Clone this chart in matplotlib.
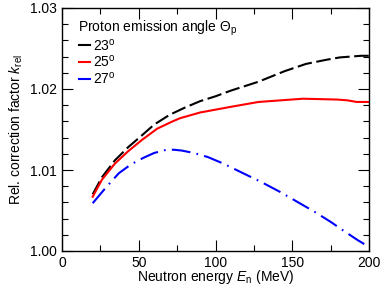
"""Relative correction factor k_rel vs neutron energy (382x286)"""
import matplotlib
matplotlib.use("Agg")
import matplotlib.pyplot as plt
from matplotlib.lines import Line2D
from matplotlib.ticker import MultipleLocator, FormatStrFormatter

plt.rcParams["font.family"] = ["Liberation Sans", "DejaVu Sans"]
plt.rcParams["mathtext.fontset"] = "custom"
plt.rcParams["mathtext.rm"] = "Liberation Sans"
plt.rcParams["mathtext.it"] = "Liberation Sans:italic"

# 23 deg (black dashed)
e_23 = [20, 26, 34.5, 43, 51, 60, 70, 80, 90, 100, 110, 128, 145, 159, 172, 181, 195, 200]
k_23 = [1.0070, 1.0091, 1.0112, 1.0128, 1.0141, 1.0156, 1.0168, 1.0177, 1.0185, 1.0191, 1.0198, 1.0209, 1.0222, 1.0231, 1.0236, 1.0239, 1.0241, 1.0241]

# 25 deg (red solid)
e_25 = [20, 26, 34.5, 43, 52, 62, 72, 77, 90, 110, 128, 157, 179, 186, 192, 200]
k_25 = [1.0067, 1.0088, 1.0108, 1.0123, 1.0137, 1.0151, 1.0160, 1.0164, 1.0171, 1.0178, 1.0184, 1.0188, 1.0187, 1.0186, 1.0184, 1.0184]

# 27 deg (blue dash-dot)
e_27 = [20, 28, 37, 45, 53, 60, 68, 73, 78, 86, 95, 105, 118, 130, 142, 153, 164, 175, 185, 193, 200]
k_27 = [1.0059, 1.0077, 1.0096, 1.0107, 1.0115, 1.0121, 1.0125, 1.0125, 1.0124, 1.0121, 1.0116, 1.0108, 1.0096, 1.0085, 1.0073, 1.0061, 1.0049, 1.0036, 1.0023, 1.0013, 1.0005]

labels = ["23$^\\mathrm{o}$", "25$^\\mathrm{o}$", "27$^\\mathrm{o}$"]
colors = ["black", "#ff0000", "#0000ff"]

fig = plt.figure(figsize=(3.82, 2.86), dpi=100, facecolor="white")
ax = fig.add_axes([62 / 382, 1 - 251 / 286, 307 / 382, 243 / 286])

ax.plot(e_23, k_23, color=colors[0], lw=1.5, dashes=(7, 2.2))
ax.plot(e_25, k_25, color=colors[1], lw=1.5)
ax.plot(e_27, k_27, color=colors[2], lw=1.5, dashes=(9, 3, 0.8, 3))

ax.set_xlim(0, 200)
ax.set_ylim(1.00, 1.03)
ax.xaxis.set_major_locator(MultipleLocator(50))
ax.xaxis.set_minor_locator(MultipleLocator(25))
ax.yaxis.set_major_locator(MultipleLocator(0.01))
ax.yaxis.set_minor_locator(MultipleLocator(0.002))
ax.yaxis.set_major_formatter(FormatStrFormatter("%.2f"))
ax.tick_params(which="both", direction="in", top=True, right=True, labelsize=10, width=0.8)
ax.tick_params(which="major", length=8)
ax.tick_params(which="minor", length=4)
for s in ax.spines.values():
    s.set_linewidth(1.0)

ax.set_xlabel("Neutron energy $\\mathit{E}_\\mathrm{n}$ (MeV)", fontsize=10, labelpad=-1)
ax.set_ylabel("Rel. correction factor $\\mathit{k}_\\mathrm{rel}$", fontsize=10, labelpad=4)

# legend: title as text, solid short handles
ax.text(0.052, 0.918, "Proton emission angle $\\Theta_\\mathrm{p}$", fontsize=10,
        ha="left", va="center", transform=ax.transAxes)
handles = [Line2D([], [], color=c, lw=1.5) for c in colors]
ax.legend(handles, labels, loc="upper left", bbox_to_anchor=(0.037, 0.903),
          frameon=False, fontsize=10, handlelength=0.8, handletextpad=0.2,
          labelspacing=0.05, borderaxespad=0)

fig.savefig("out.png", dpi=100)
